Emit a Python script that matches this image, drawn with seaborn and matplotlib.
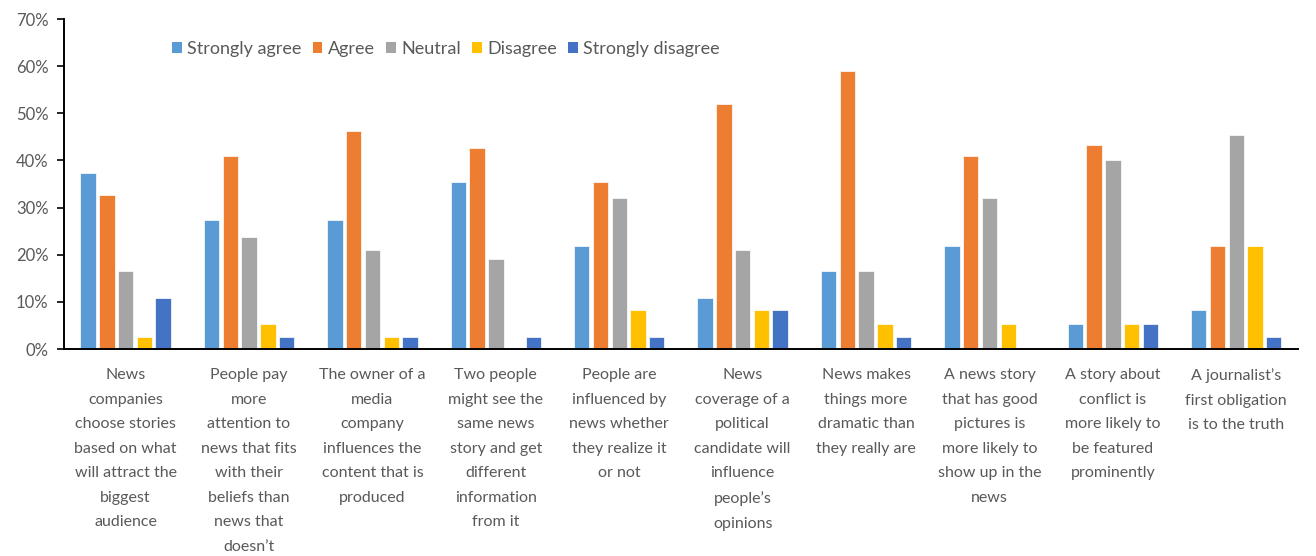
import matplotlib
matplotlib.use("Agg")
import matplotlib.pyplot as plt
from matplotlib.patches import Patch
from matplotlib.ticker import PercentFormatter, MultipleLocator
import seaborn as sns
import pandas as pd

statements = [
    "News\ncompanies\nchoose stories\nbased on what\nwill attract the\nbiggest\naudience",
    "People pay\nmore\nattention to\nnews that fits\nwith their\nbeliefs than\nnews that\ndoesn\u2019t",
    "The owner of a\nmedia\ncompany\ninfluences the\ncontent that is\nproduced",
    "Two people\nmight see the\nsame news\nstory and get\ndifferent\ninformation\nfrom it",
    "People are\ninfluenced by\nnews whether\nthey realize it\nor not",
    "News\ncoverage of a\npolitical\ncandidate will\ninfluence\npeople\u2019s\nopinions",
    "News makes\nthings more\ndramatic than\nthey really are",
    "A news story\nthat has good\npictures is\nmore likely to\nshow up in the\nnews",
    "A story about\nconflict is\nmore likely to\nbe featured\nprominently",
    "A journalist\u2019s\nfirst obligation\nis to the truth",
]

responses = ["Strongly agree", "Agree", "Neutral", "Disagree", "Strongly disagree"]

strongly_agree    = [37.3, 27.3, 27.3, 35.5, 21.9, 10.9, 16.5, 21.9, 5.4, 8.3]
agree             = [32.6, 40.9, 46.2, 42.6, 35.5, 51.9, 59.0, 40.9, 43.3, 21.9]
neutral           = [16.5, 23.7, 20.9, 19.0, 32.0, 20.9, 16.5, 32.0, 40.1, 45.5]
disagree          = [2.6, 5.4, 2.6, 0.0, 8.3, 8.3, 5.4, 5.4, 5.4, 21.9]
strongly_disagree = [10.9, 2.6, 2.6, 2.6, 2.6, 8.3, 2.6, 0.0, 5.4, 2.6]

colors = ["#5B9BD5", "#ED7D31", "#A5A5A5", "#FFC000", "#4472C4"]

series = [strongly_agree, agree, neutral, disagree, strongly_disagree]
rows = []
for resp, vals in zip(responses, series):
    for st, v in zip(statements, vals):
        rows.append({"statement": st, "response": resp, "pct": v})
df = pd.DataFrame(rows)

sns.set_theme(style="white")
plt.rcParams["font.family"] = ["Lato", "DejaVu Sans"]

fig = plt.figure(figsize=(13.16, 5.56), dpi=100)
ax = fig.add_axes([0.0486, 0.3723, 0.9377, 0.5935])

sns.barplot(data=df, x="statement", y="pct", hue="response",
            order=statements, hue_order=responses, palette=colors,
            width=0.76, gap=0.18, saturation=1, ax=ax, legend=False,
            edgecolor="white", linewidth=0.5)

ax.set_ylim(0, 70)
ax.set_xlim(-0.5, len(statements) - 0.5)
ax.yaxis.set_major_locator(MultipleLocator(10))
ax.yaxis.set_major_formatter(PercentFormatter(decimals=0))
ax.set_xlabel("")
ax.set_ylabel("")

for side in ["top", "right"]:
    ax.spines[side].set_visible(False)
for side in ["left", "bottom"]:
    ax.spines[side].set_color("black")
    ax.spines[side].set_linewidth(1.4)

ax.tick_params(axis="y", which="major", left=True, length=5, width=1.2,
               color="black", labelsize=12, labelcolor="#595959", pad=6)
ax.tick_params(axis="x", bottom=False, labelsize=11.5, labelcolor="#595959", pad=8)
for lbl in ax.get_xticklabels():
    lbl.set_linespacing(1.95)
    lbl.set_verticalalignment("top")

handles = [Patch(facecolor=c, edgecolor="none") for c in colors]
fig.legend(handles, responses, ncol=5, loc="center left",
           bbox_to_anchor=(172 / 1316, 1 - 49 / 556), frameon=False,
           fontsize=13, labelcolor="#595959", handlelength=0.55,
           handleheight=0.55, handletextpad=0.3, columnspacing=0.6,
           borderpad=0, borderaxespad=0)

fig.savefig("out.png", dpi=100, facecolor="white")
